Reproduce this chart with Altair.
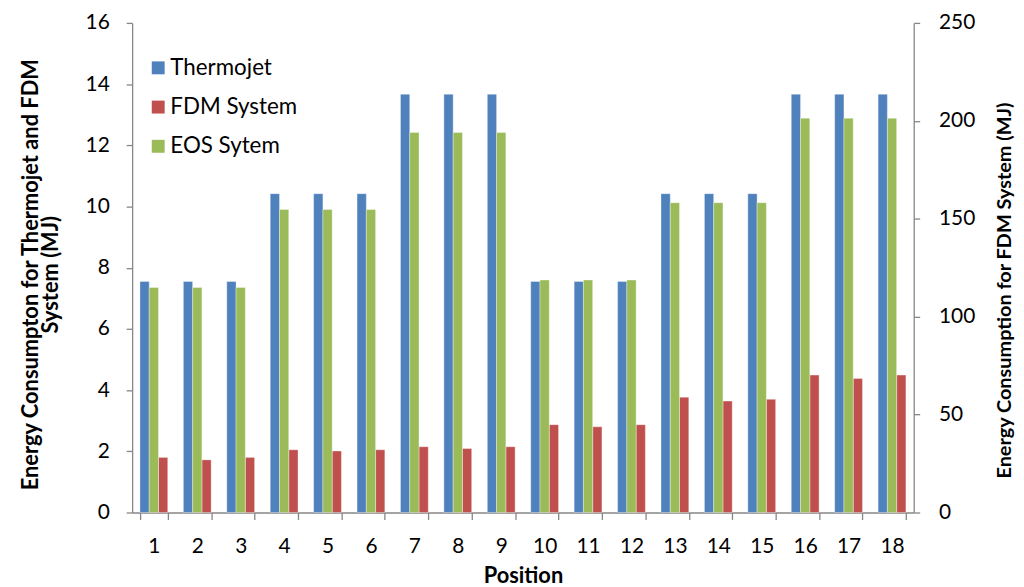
import altair as alt
import pandas as pd

positions = [str(p) for p in range(1, 19)]
thermojet = [7.55, 7.55, 7.55, 10.42, 10.42, 10.42, 13.67, 13.67, 13.67,
             7.55, 7.55, 7.55, 10.42, 10.42, 10.42, 13.67, 13.67, 13.67]
fdm = [1.80, 1.72, 1.80, 2.05, 2.01, 2.05, 2.15, 2.09, 2.15,
       2.87, 2.80, 2.87, 3.77, 3.64, 3.70, 4.49, 4.38, 4.49]
eos = [114.9, 114.9, 114.9, 154.7, 154.7, 154.7, 194.0, 194.0, 194.0,
       118.7, 118.7, 118.7, 158.2, 158.2, 158.2, 201.3, 201.3, 201.3]

series_legend = ["Thermojet", "FDM System", "EOS Sytem"]
series_order = ["Thermojet", "EOS Sytem", "FDM System"]
colors = ["#4F81BD", "#C0504D", "#9BBB59"]
left_ticks = list(range(0, 17, 2))
right_ticks = list(range(0, 251, 50))

rows = []
for i, p in enumerate(positions):
    rows.append({"Position": p, "Series": "Thermojet", "Value": thermojet[i]})
    rows.append({"Position": p, "Series": "FDM System", "Value": fdm[i]})
left_df = pd.DataFrame(rows)
right_df = pd.DataFrame({"Position": positions, "Series": ["EOS Sytem"] * len(positions), "Value": eos})

FONT = "Lato"

x_enc = alt.X(
    "Position:N", sort=positions,
    scale=alt.Scale(paddingInner=0.36, paddingOuter=0.18),
    axis=alt.Axis(title="Position", labelAngle=0, tickBand="extent", tickSize=7,
                  labelPadding=16, titleFontSize=22, titlePadding=9),
)
xoff_enc = alt.XOffset("Series:N", sort=series_order, scale=alt.Scale(domain=series_order))
color_enc = alt.Color(
    "Series:N",
    scale=alt.Scale(domain=series_legend, range=colors),
    legend=alt.Legend(title=None, orient="none", legendX=15, legendY=34,
                      symbolType="square", symbolSize=169, symbolStrokeWidth=0,
                      labelFontSize=22.5, labelFont=FONT, rowPadding=16.5, padding=0,
                      labelOffset=1),
)

left_layer = alt.Chart(left_df).mark_bar(stroke="white", strokeWidth=0.7, strokeOpacity=0.5).encode(
    x=x_enc,
    xOffset=xoff_enc,
    y=alt.Y("Value:Q", scale=alt.Scale(domain=[0, 16]),
            axis=alt.Axis(values=left_ticks, orient="left", tickSize=6, labelPadding=17,
                          title=["Energy Consumpton for Thermojet and FDM", "System (MJ)"],
                          titleFontSize=22, titleLineHeight=20, titleAngle=270,
                          titleBaseline="middle", titleAlign="center",
                          titleX=-102, titleY=253)),
    color=color_enc,
)

right_layer = alt.Chart(right_df).mark_bar(stroke="white", strokeWidth=0.7, strokeOpacity=0.5).encode(
    x=x_enc,
    xOffset=xoff_enc,
    y=alt.Y("Value:Q", scale=alt.Scale(domain=[0, 250]),
            axis=alt.Axis(values=right_ticks, orient="right", tickSize=6, labelPadding=19,
                          title="Energy Consumption for FDM System (MJ)", titleAngle=270,
                          titleFontSize=20, titleBaseline="middle", titleAlign="center",
                          titleX=91, titleY=269)),
    color=color_enc,
)

chart = alt.layer(left_layer, right_layer).resolve_scale(y="independent").properties(
    width=787, height=493,
    autosize=alt.AutoSizeParams(type="none"),
    padding={"left": 125, "top": 13, "right": 103, "bottom": 73},
    background="white",
).configure_axis(
    grid=False, domainColor="#868686", tickColor="#868686", domainWidth=1.3, tickWidth=1.3,
    labelFont=FONT, labelFontSize=21, labelColor="#000000",
    titleFont=FONT, titleFontWeight="bold", titleColor="#000000",
).configure_view(stroke=None)

chart.save("out.html", embed_options={"renderer": "svg", "actions": False})
